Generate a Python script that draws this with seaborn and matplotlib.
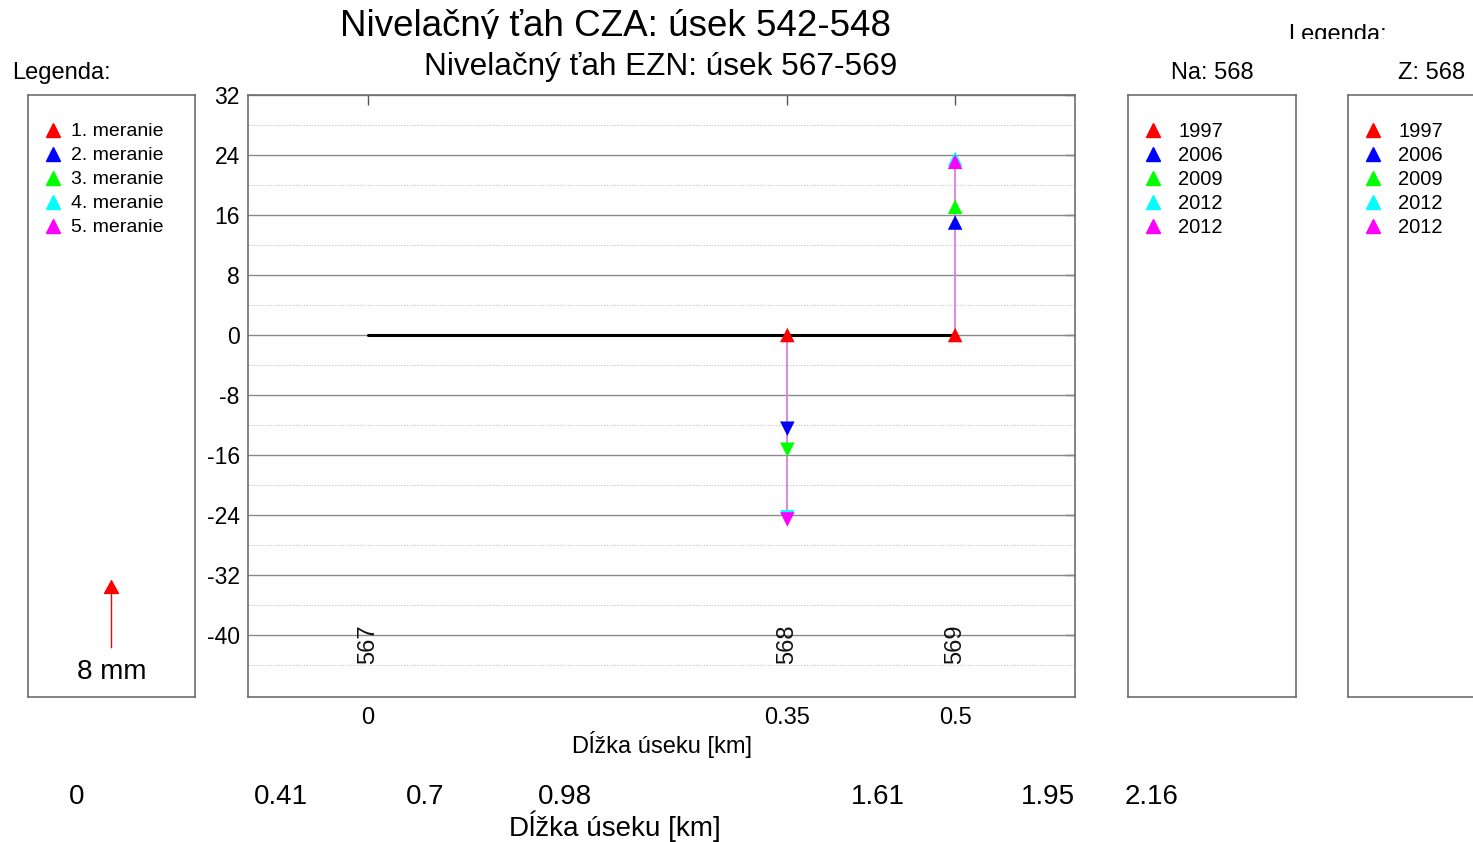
import numpy as np
import pandas as pd
import matplotlib
matplotlib.use("Agg")
import matplotlib.pyplot as plt
from matplotlib.patches import Rectangle
import seaborn as sns

# ---------------- data ----------------
point_names = ["567", "568", "569"]
point_dist = [0.0, 0.35, 0.49]
dist_tick_labels = ["0", "0.35", "0.5"]

meas_labels = ["1. meranie", "2. meranie", "3. meranie", "4. meranie", "5. meranie"]
meas_years = ["1997", "2006", "2009", "2012", "2012"]
meas_colors = ["#ff0000", "#0000ff", "#00ff00", "#00ffff", "#ff00ff"]

vals_568 = [0.0, -12.5, -15.3, -24.3, -24.6]
vals_569 = [0.0, 15.0, 17.1, 23.5, 23.1]
base_line = [0.0, 0.0, 0.0]

cza_dist = [0.0, 0.41, 0.70, 0.98, 1.61, 1.95, 2.16]
cza_labels = ["0", "0.41", "0.7", "0.98", "1.61", "1.95", "2.16"]

y_major = [-40, -32, -24, -16, -8, 0, 8, 16, 24, 32]
y_minor = [-44, -36, -28, -20, -12, -4, 4, 12, 20, 28]

# ---------------- style ----------------
sns.set_theme(style="white")
plt.rcParams["font.family"] = ["Liberation Sans", "DejaVu Sans"]
plt.rcParams["text.color"] = "black"
plt.rcParams["axes.labelcolor"] = "black"
plt.rcParams["xtick.color"] = "black"
plt.rcParams["ytick.color"] = "black"

W, H = 1473, 842
fig = plt.figure(figsize=(W / 100, H / 100), dpi=100)


def rect(l, t, r, b):
    return [l / W, 1 - b / H, (r - l) / W, (b - t) / H]


SPINE = "#6e6e6e"

# ---------------- main axes ----------------
ax = fig.add_axes(rect(248, 95, 1075, 697))
ax.set_xlim(-0.1, 0.59)
ax.set_ylim(-48.27, 32)

for yv in y_major:
    ax.axhline(yv, color="#8a8a8a", lw=1.0, zorder=1)
for yv in y_minor:
    ax.axhline(yv, color="#c4c4c4", lw=0.8, ls=(0, (1, 1.5)), zorder=1)

rows = []
for mi, lab in enumerate(meas_labels):
    for pname, d, vals in (("568", point_dist[1], vals_568), ("569", point_dist[2], vals_569)):
        v = vals[mi]
        rows.append({"meas": lab, "point": pname, "dist": d, "val": v,
                     "dir": "down" if v < 0 else "up"})
df = pd.DataFrame(rows)

# connecting line (from 0 to last measurement)
last_vals = [vals_568[-1], vals_569[-1]]
ax.vlines(point_dist[1:], [0, 0], last_vals, color="#e07ce0", lw=1.3, zorder=3)

# baseline
sns.lineplot(x=point_dist, y=base_line, color="black", lw=2.2, ax=ax, zorder=4)

sns.scatterplot(data=df, x="dist", y="val", hue="meas", palette=meas_colors,
                hue_order=meas_labels, style="dir", markers={"up": "^", "down": "v"},
                s=110, linewidth=0, legend=False, ax=ax, zorder=5)

for name, d in zip(point_names, point_dist):
    ax.text(d, -41.2, name, rotation=90, ha="center", va="center", fontsize=17, color="#111111")

ax.set_xticks(point_dist)
ax.set_xticklabels(dist_tick_labels)
ax.set_yticks(y_major)
ax.set_yticklabels([str(v) for v in y_major])
ax.tick_params(axis="both", direction="in", length=7, width=1, color="#555555",
               top=True, right=True, labelsize=16.5, pad=6)
ax.tick_params(axis="x", labelsize=17, pad=7)
ax.set_xlabel("Dĺžka úseku [km]", fontsize=17, labelpad=2)
ax.set_ylabel("")
for s in ax.spines.values():
    s.set_color(SPINE)
    s.set_linewidth(1.2)

# ---------------- left legend box ----------------
axl = fig.add_axes(rect(28, 95, 195, 697))
axl.set_xlim(0, 1)
axl.set_ylim(-48.27, 32)
axl.set_xticks([])
axl.set_yticks([])
for s in axl.spines.values():
    s.set_color(SPINE)
    s.set_linewidth(1.2)
for i, (lab, c) in enumerate(zip(meas_labels, meas_colors)):
    yf = 1 - (130 + 24 * i - 95) / 602
    axl.plot([0.15], [yf], marker="^", ms=9.5, color=c, mec=c, transform=axl.transAxes, clip_on=False)
    axl.text(0.257, yf, lab, transform=axl.transAxes, ha="left", va="center_baseline", fontsize=14)
axl.annotate("", xy=(0.5, -32.6), xytext=(0.5, -41.7),
             arrowprops=dict(arrowstyle="-|>,head_length=0.45,head_width=0.25",
                             color="red", lw=1.0, mutation_scale=20, shrinkA=0, shrinkB=0))
axl.text(0.5, 1 - (672 - 95) / 602, "8 mm", transform=axl.transAxes, ha="center",
         va="center", fontsize=20)

# ---------------- right legend boxes ----------------
for (l, r) in ((1128, 1296), (1348, 1516)):
    axr = fig.add_axes(rect(l, 95, r, 697))
    axr.set_xticks([])
    axr.set_yticks([])
    for s in axr.spines.values():
        s.set_color(SPINE)
        s.set_linewidth(1.2)
    for i, (yr, c) in enumerate(zip(meas_years, meas_colors)):
        yf = 1 - (130 + 24 * i - 95) / 602
        axr.plot([0.149], [yf], marker="^", ms=9.5, color=c, mec=c, transform=axr.transAxes)
        axr.text(0.298, yf, yr, transform=axr.transAxes, ha="left", va="center_baseline", fontsize=14.5)

# ---------------- hidden CZA axis (bottom labels) ----------------
ax2 = fig.add_axes(rect(77, 776, 1152, 778))
ax2.set_xlim(0, 2.16)
ax2.set_xticks(cza_dist)
ax2.set_xticklabels(cza_labels)
ax2.set_yticks([])
ax2.patch.set_visible(False)
for s in ax2.spines.values():
    s.set_visible(False)
ax2.tick_params(axis="x", length=0, pad=4, labelsize=20)
ax2.set_xlabel("Dĺžka úseku [km]", fontsize=20, labelpad=1)

# ---------------- titles / labels ----------------
fig.text(615 / W, 1 - 36 / H, "Nivelačný ťah CZA: úsek 542-548", ha="center",
         va="baseline", fontsize=26.5, zorder=1)
fig.text(1337 / W, 1 - 41 / H, "Legenda:", ha="center", va="baseline", fontsize=17, zorder=1)
fig.patches.append(Rectangle((0.2, 1 - 47 / H), 0.8, 8 / H, transform=fig.transFigure,
                             facecolor="white", edgecolor="none", zorder=2))
fig.text(661 / W, 1 - 75 / H, "Nivelačný ťah EZN: úsek 567-569", ha="center",
         va="baseline", fontsize=22.7, zorder=3)
fig.text(12 / W, 1 - 79 / H, "Legenda:", ha="left", va="baseline", fontsize=17)
fig.text(1212 / W, 1 - 79 / H, "Na: 568", ha="center", va="baseline", fontsize=17)
fig.text(1432 / W, 1 - 79 / H, "Z: 568", ha="center", va="baseline", fontsize=17)

fig.savefig("out.png", dpi=100, facecolor="white")
